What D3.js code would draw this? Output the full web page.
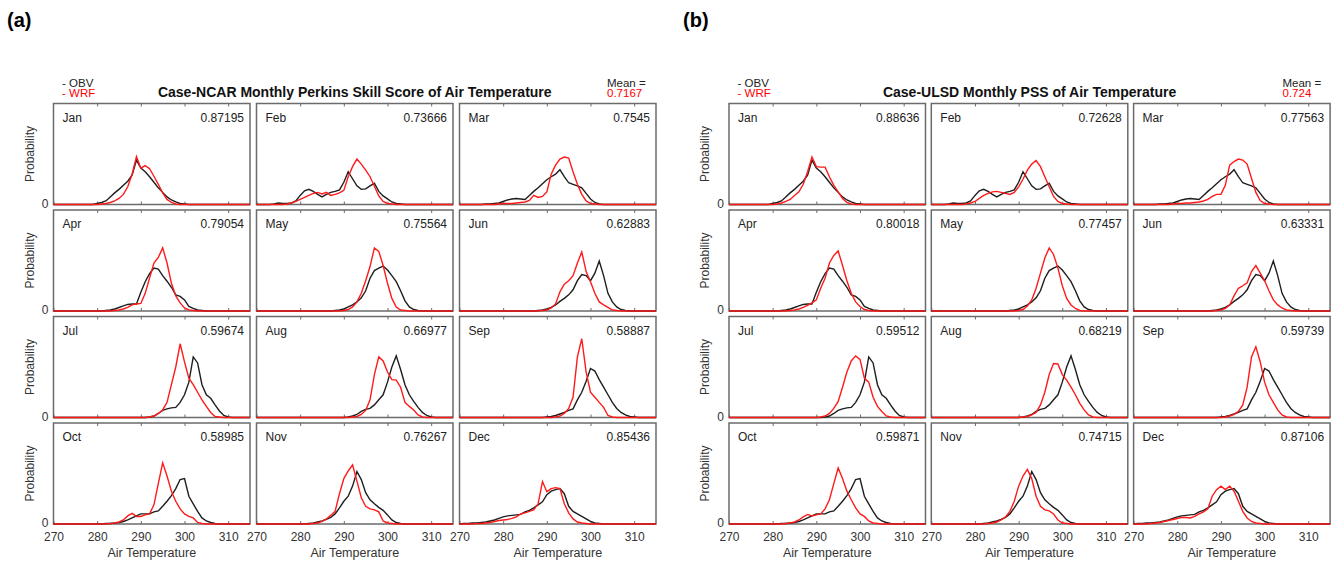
<!DOCTYPE html>
<html>
<head>
<meta charset="utf-8">
<script src="https://cdn.jsdelivr.net/npm/d3@7"></script>
<style>
body { margin: 0; background: #fff; }
svg text { font-family: Arial, "Liberation Sans", sans-serif; }
</style>
</head>
<body>
<svg id="chart"></svg>
<script>
const months = ["Jan", "Feb", "Mar", "Apr", "May", "Jun", "Jul", "Aug", "Sep", "Oct", "Nov", "Dec"];
const pssNCAR = [0.87195, 0.73666, 0.7545, 0.79054, 0.75564, 0.62883, 0.59674, 0.66977, 0.58887, 0.58985, 0.76267, 0.85436];
const pssULSD = [0.88636, 0.72628, 0.77563, 0.80018, 0.77457, 0.63331, 0.59512, 0.68219, 0.59739, 0.59871, 0.74715, 0.87106];
const meanNCAR = "0.7167";
const meanULSD = "0.724";
const xTicks = [270, 280, 290, 300, 310];

// probability per 1 K bin, first bin temperature in *Start
const obvStart = [279, 274, 276, 282, 288, 288, 292, 291, 290, 282, 282, 271];
const obv = [
  [0, 0.002, 0.004, 0.007, 0.015, 0.023, 0.030, 0.038, 0.046, 0.058, 0.088, 0.072, 0.065, 0.055, 0.044, 0.033, 0.024, 0.015, 0.009, 0.005, 0.002, 0.001],
  [0.001, 0.003, 0.002, 0.002, 0.003, 0.007, 0.018, 0.027, 0.030, 0.026, 0.020, 0.015, 0.020, 0.024, 0.026, 0.029, 0.044, 0.065, 0.051, 0.037, 0.030, 0.031, 0.037, 0.042, 0.026, 0.017, 0.011, 0.005, 0.002, 0.001],
  [0.001, 0.001, 0.002, 0.003, 0.006, 0.009, 0.011, 0.012, 0.011, 0.010, 0.018, 0.026, 0.033, 0.041, 0.049, 0.055, 0.060, 0.069, 0.055, 0.043, 0.040, 0.037, 0.033, 0.022, 0.011, 0.004, 0.001],
  [0.001, 0.002, 0.004, 0.007, 0.010, 0.013, 0.014, 0.014, 0.037, 0.058, 0.074, 0.085, 0.083, 0.070, 0.059, 0.047, 0.032, 0.029, 0.022, 0.009, 0.005, 0.002, 0.001],
  [0.001, 0.002, 0.004, 0.008, 0.012, 0.018, 0.026, 0.040, 0.065, 0.080, 0.085, 0.089, 0.081, 0.070, 0.058, 0.040, 0.020, 0.008, 0.003, 0.001],
  [0.001, 0.002, 0.004, 0.007, 0.012, 0.019, 0.025, 0.032, 0.042, 0.060, 0.072, 0.070, 0.060, 0.075, 0.099, 0.070, 0.035, 0.018, 0.008, 0.003, 0.001],
  [0.001, 0.003, 0.008, 0.014, 0.017, 0.019, 0.020, 0.030, 0.045, 0.070, 0.120, 0.108, 0.065, 0.045, 0.038, 0.025, 0.013, 0.004, 0.001],
  [0.001, 0.003, 0.006, 0.012, 0.016, 0.018, 0.025, 0.035, 0.045, 0.070, 0.100, 0.122, 0.095, 0.065, 0.045, 0.032, 0.020, 0.010, 0.004, 0.001],
  [0.001, 0.002, 0.004, 0.007, 0.010, 0.014, 0.017, 0.035, 0.050, 0.072, 0.097, 0.092, 0.075, 0.060, 0.045, 0.030, 0.018, 0.010, 0.005, 0.002, 0.001],
  [0.001, 0.001, 0.002, 0.003, 0.005, 0.008, 0.012, 0.016, 0.020, 0.020, 0.020, 0.024, 0.026, 0.035, 0.045, 0.056, 0.070, 0.088, 0.090, 0.055, 0.040, 0.025, 0.012, 0.006, 0.003, 0.001],
  [0.001, 0.002, 0.004, 0.006, 0.009, 0.013, 0.020, 0.032, 0.045, 0.055, 0.075, 0.104, 0.088, 0.062, 0.048, 0.040, 0.033, 0.027, 0.018, 0.008, 0.003, 0.001],
  [0.001, 0.001, 0.002, 0.002, 0.003, 0.004, 0.006, 0.008, 0.011, 0.014, 0.016, 0.017, 0.018, 0.019, 0.024, 0.027, 0.032, 0.038, 0.044, 0.058, 0.065, 0.068, 0.070, 0.060, 0.035, 0.025, 0.020, 0.015, 0.010, 0.005, 0.002, 0.001]
];

const wrfNcarStart = [281, 277, 279, 284, 290, 289, 292, 292, 292, 283, 283, 274];
const wrfNcar = [
  [0.001, 0.002, 0.004, 0.007, 0.012, 0.020, 0.035, 0.060, 0.095, 0.072, 0.077, 0.071, 0.056, 0.040, 0.023, 0.010, 0.004, 0.001],
  [0.001, 0.003, 0.006, 0.010, 0.014, 0.018, 0.022, 0.024, 0.021, 0.024, 0.018, 0.020, 0.023, 0.028, 0.055, 0.075, 0.090, 0.080, 0.068, 0.055, 0.036, 0.017, 0.006, 0.002, 0.001],
  [0.001, 0.002, 0.002, 0.002, 0.003, 0.004, 0.005, 0.008, 0.018, 0.014, 0.016, 0.025, 0.060, 0.078, 0.090, 0.094, 0.092, 0.065, 0.040, 0.020, 0.007, 0.002, 0.001],
  [0.001, 0.002, 0.004, 0.007, 0.012, 0.014, 0.015, 0.035, 0.065, 0.095, 0.106, 0.125, 0.095, 0.055, 0.030, 0.016, 0.006, 0.002, 0.001],
  [0.001, 0.003, 0.008, 0.018, 0.035, 0.060, 0.088, 0.125, 0.118, 0.090, 0.055, 0.025, 0.008, 0.002, 0.001],
  [0.001, 0.002, 0.006, 0.014, 0.038, 0.053, 0.060, 0.070, 0.095, 0.117, 0.078, 0.058, 0.035, 0.018, 0.012, 0.007, 0.002, 0.001],
  [0.001, 0.003, 0.008, 0.015, 0.030, 0.065, 0.100, 0.146, 0.110, 0.078, 0.065, 0.050, 0.035, 0.022, 0.010, 0.002, 0.001],
  [0.001, 0.002, 0.006, 0.014, 0.035, 0.085, 0.120, 0.112, 0.090, 0.075, 0.074, 0.060, 0.030, 0.022, 0.015, 0.005, 0.001],
  [0.001, 0.003, 0.008, 0.018, 0.040, 0.120, 0.156, 0.090, 0.050, 0.040, 0.030, 0.020, 0.004, 0.001],
  [0.001, 0.002, 0.004, 0.008, 0.016, 0.021, 0.015, 0.015, 0.018, 0.020, 0.038, 0.080, 0.121, 0.095, 0.065, 0.045, 0.030, 0.020, 0.015, 0.012, 0.003, 0.001],
  [0.001, 0.002, 0.005, 0.010, 0.017, 0.025, 0.060, 0.090, 0.105, 0.117, 0.085, 0.052, 0.035, 0.030, 0.028, 0.024, 0.006, 0.002, 0.001],
  [0.001, 0.001, 0.002, 0.003, 0.005, 0.007, 0.008, 0.009, 0.011, 0.014, 0.020, 0.022, 0.025, 0.028, 0.040, 0.084, 0.064, 0.070, 0.072, 0.070, 0.040, 0.022, 0.010, 0.004, 0.002, 0.001]
];

const wrfUlsdStart = [281, 278, 279, 284, 290, 289, 291, 291, 291, 283, 283, 274];
const wrfUlsd = [
  [0.001, 0.003, 0.006, 0.010, 0.018, 0.025, 0.040, 0.065, 0.094, 0.075, 0.074, 0.074, 0.055, 0.038, 0.025, 0.012, 0.004, 0.001],
  [0.001, 0.003, 0.006, 0.012, 0.018, 0.022, 0.025, 0.026, 0.024, 0.022, 0.020, 0.024, 0.035, 0.050, 0.068, 0.080, 0.087, 0.075, 0.055, 0.035, 0.016, 0.006, 0.002, 0.001],
  [0.001, 0.002, 0.002, 0.003, 0.003, 0.004, 0.005, 0.007, 0.010, 0.016, 0.020, 0.020, 0.038, 0.078, 0.085, 0.090, 0.088, 0.080, 0.052, 0.024, 0.008, 0.002, 0.001],
  [0.001, 0.002, 0.004, 0.007, 0.011, 0.016, 0.022, 0.045, 0.065, 0.095, 0.110, 0.119, 0.090, 0.060, 0.035, 0.018, 0.009, 0.003, 0.001],
  [0.001, 0.003, 0.010, 0.022, 0.045, 0.075, 0.105, 0.125, 0.112, 0.085, 0.050, 0.025, 0.012, 0.005, 0.001],
  [0.001, 0.002, 0.005, 0.012, 0.030, 0.045, 0.050, 0.056, 0.078, 0.090, 0.075, 0.060, 0.040, 0.022, 0.012, 0.006, 0.002, 0.001],
  [0.001, 0.003, 0.008, 0.018, 0.032, 0.060, 0.090, 0.112, 0.122, 0.115, 0.078, 0.070, 0.040, 0.022, 0.012, 0.003, 0.001],
  [0.001, 0.002, 0.005, 0.010, 0.025, 0.050, 0.085, 0.107, 0.106, 0.085, 0.074, 0.060, 0.045, 0.028, 0.015, 0.005, 0.001],
  [0.001, 0.003, 0.006, 0.012, 0.025, 0.060, 0.120, 0.140, 0.110, 0.070, 0.045, 0.030, 0.015, 0.005, 0.001],
  [0.001, 0.002, 0.004, 0.008, 0.014, 0.019, 0.016, 0.018, 0.020, 0.030, 0.048, 0.080, 0.111, 0.090, 0.065, 0.048, 0.032, 0.020, 0.015, 0.006, 0.002, 0.001],
  [0.001, 0.002, 0.004, 0.008, 0.014, 0.025, 0.045, 0.075, 0.095, 0.108, 0.090, 0.055, 0.035, 0.028, 0.026, 0.020, 0.008, 0.002, 0.001],
  [0.001, 0.002, 0.003, 0.005, 0.007, 0.009, 0.011, 0.013, 0.013, 0.012, 0.015, 0.020, 0.024, 0.030, 0.055, 0.068, 0.075, 0.068, 0.075, 0.065, 0.045, 0.025, 0.012, 0.005, 0.002, 0.001]
];

const width = 1333;
const height = 564;
const boxW = 196.5, boxH = 101;
const rowTop = 103.5, rowPitch = 106.5;

const svg = d3.select("#chart")
    .attr("width", width)
    .attr("height", height);

// bins are 1 K wide, zero outside the listed range
function series(start, vals) {
    const pts = [];
    for (let t = 270; t <= 315; t++) {
        const i = t - start;
        pts.push([t, (i >= 0 && i < vals.length) ? vals[i] : 0]);
    }
    return pts;
}

function drawPanel(p) {
    const g = svg.append("g");

    g.append("text")
        .attr("x", p.labelX).attr("y", 27)
        .attr("font-size", 20).attr("font-weight", "bold")
        .text(p.label);

    const mid = p.x0 + (2 * p.pitch + boxW) / 2;
    g.append("text")
        .attr("x", mid).attr("y", 97)
        .attr("text-anchor", "middle")
        .attr("font-size", 14).attr("font-weight", "bold")
        .attr("fill", "#111")
        .text(p.title);

    // legend top left, mean top right
    g.append("text").attr("x", p.x0 + 8.5).attr("y", 87)
        .attr("font-size", 11.5).attr("fill", "#222").text("- OBV");
    g.append("text").attr("x", p.x0 + 8.5).attr("y", 97)
        .attr("font-size", 11.5).attr("fill", "#f00").text("- WRF");
    g.append("text").attr("x", p.x0 + 553.5).attr("y", 87)
        .attr("font-size", 11.5).attr("fill", "#222").text("Mean =");
    g.append("text").attr("x", p.x0 + 553.5).attr("y", 97)
        .attr("font-size", 11.5).attr("fill", "#f00").text(p.mean);

    months.forEach((m, k) => {
        const col = k % 3, row = Math.floor(k / 3);
        const left = p.x0 + col * p.pitch;
        const top = rowTop + row * rowPitch;

        const x = d3.scaleLinear().domain([270, 315]).range([left, left + boxW]);
        const y = d3.scaleLinear().domain([0, 0.2]).range([top + boxH, top]);

        const cell = g.append("g");

        cell.append("rect")
            .attr("x", left).attr("y", top)
            .attr("width", boxW).attr("height", boxH)
            .attr("fill", "none")
            .attr("stroke", "#6b6b6b")
            .attr("stroke-width", 1.5);

        const topAxis = cell.append("g")
            .attr("transform", `translate(0,${top})`)
            .call(d3.axisTop(x).tickValues(xTicks.slice(1)).tickSize(-3).tickFormat(""));
        topAxis.select(".domain").remove();
        topAxis.selectAll("line").attr("stroke", "#6b6b6b");

        const botAxis = cell.append("g")
            .attr("transform", `translate(0,${top + boxH})`)
            .call(d3.axisBottom(x).tickValues(xTicks).tickSize(-3).tickPadding(8.5)
                .tickFormat(row === 3 ? d3.format("d") : ""));
        botAxis.select(".domain").remove();
        botAxis.selectAll("line").attr("stroke", "#6b6b6b");
        botAxis.selectAll("text")
            .attr("font-size", 12)
            .attr("font-family", "Arial, 'Liberation Sans', sans-serif")
            .attr("fill", "#333");

        if (col === 0) {
            cell.append("text")
                .attr("x", left - 5).attr("y", y(0))
                .attr("dy", "0.25em")
                .attr("text-anchor", "end")
                .attr("font-size", 12).attr("fill", "#333")
                .text("0");
            cell.append("text")
                .attr("transform", `translate(${left - 20},${top + boxH / 2}) rotate(-90)`)
                .attr("text-anchor", "middle")
                .attr("font-size", 12).attr("fill", "#333")
                .text("Probability");
        }
        if (row === 3) {
            cell.append("text")
                .attr("x", left + boxW / 2).attr("y", 557)
                .attr("text-anchor", "middle")
                .attr("font-size", 12.5).attr("fill", "#333")
                .text("Air Temperature");
        }

        cell.append("text")
            .attr("x", left + 9).attr("y", top + 18)
            .attr("font-size", 12).attr("fill", "#222")
            .text(m);
        cell.append("text")
            .attr("x", left + boxW - 6).attr("y", top + 18)
            .attr("text-anchor", "end")
            .attr("font-size", 12).attr("fill", "#222")
            .text(p.pss[k]);

        const line = d3.line().x(d => x(d[0])).y(d => y(d[1]));

        cell.append("path")
            .datum(series(obvStart[k], obv[k]))
            .attr("d", line)
            .attr("fill", "none")
            .attr("stroke", "#1e1e1e")
            .attr("stroke-width", 1.4);

        cell.append("path")
            .datum(series(p.wrfStart[k], p.wrf[k]))
            .attr("d", line)
            .attr("fill", "none")
            .attr("stroke", "#ff1a1a")
            .attr("stroke-width", 1.4);
    });
}

drawPanel({label: "(a)", labelX: 7, title: "Case-NCAR Monthly Perkins Skill Score of Air Temperature",
    mean: meanNCAR, pss: pssNCAR, wrf: wrfNcar, wrfStart: wrfNcarStart, x0: 53.5, pitch: 203});
drawPanel({label: "(b)", labelX: 683, title: "Case-ULSD Monthly PSS of Air Temperature",
    mean: meanULSD, pss: pssULSD, wrf: wrfUlsd, wrfStart: wrfUlsdStart, x0: 729, pitch: 202.3});
</script>
</body>
</html>
